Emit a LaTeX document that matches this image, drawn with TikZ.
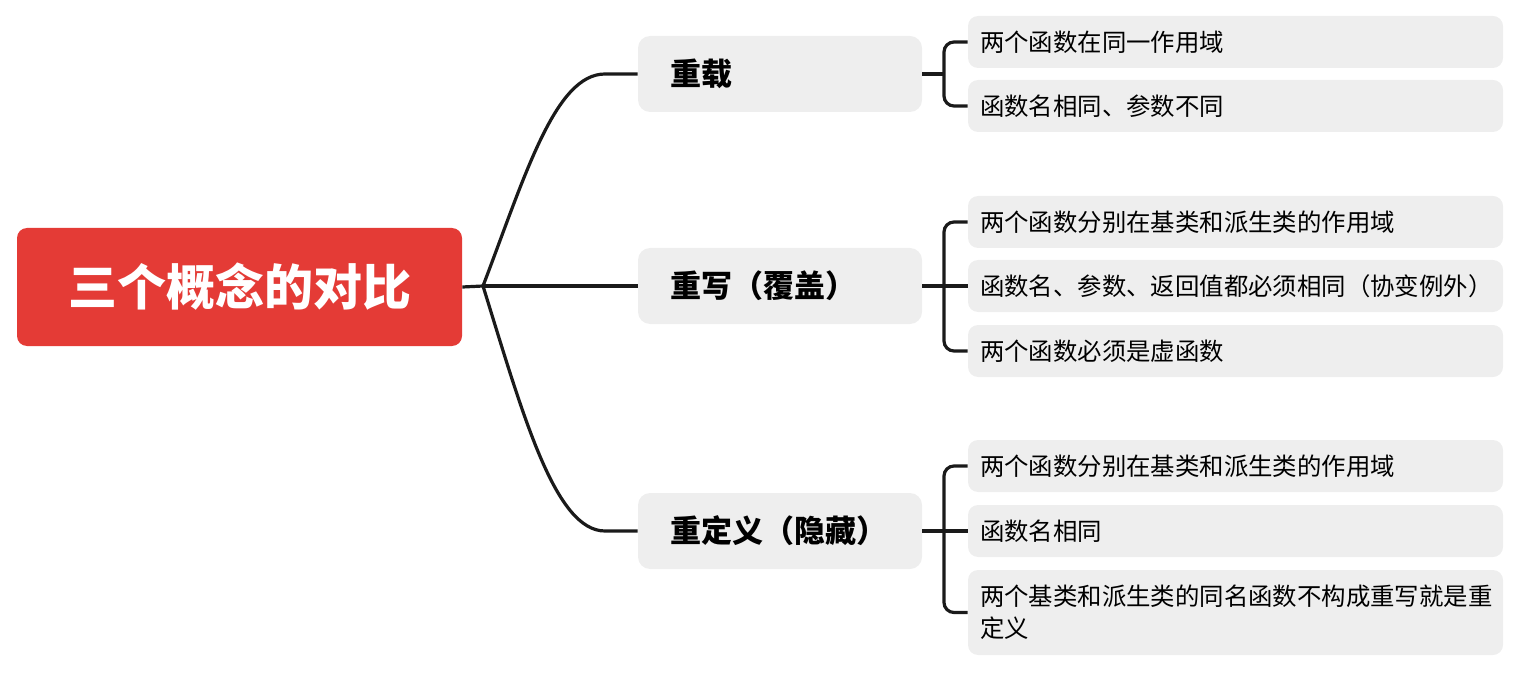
\documentclass[tikz,border=0pt]{standalone}
\usepackage{fontspec}
\setmainfont{Noto Sans CJK SC}
\usetikzlibrary{calc}
\definecolor{rootred}{HTML}{E43B36}
\definecolor{boxgray}{HTML}{EEEEEE}
\definecolor{linec}{HTML}{1A1A1A}
\tikzset{
  rootbox/.style={fill=rootred, rounded corners=5pt, minimum width=222.5pt, minimum height=59pt,
    font=\fontsize{24.5}{28}\selectfont\bfseries, text=white, inner sep=0pt},
  midbox/.style={fill=boxgray, rounded corners=6pt, minimum height=38pt, text width=110pt,
    inner xsep=16pt, inner ysep=0pt, align=left, font=\fontsize{15.5}{18}\selectfont\bfseries, text=black},
  leafbox/.style={fill=boxgray, rounded corners=5pt, minimum height=26pt, text width=255.5pt,
    inner xsep=6pt, inner ysep=0pt, align=left, font=\fontsize{12.2}{16}\selectfont, text=black},
  conn/.style={draw=linec, line width=1.6pt},
}
\begin{document}
\begin{tikzpicture}[x=0.5pt,y=-0.5pt]
\useasboundingbox (0,0) rectangle (1536,684);
% root
\node[rootbox] (root) at (239.5,287) {三个概念的对比};
\coordinate (J) at (483,286);
% mid nodes
\node[midbox] (m1) at (780,74) {重载};
\node[midbox] (m2) at (780,286) {重写（覆盖）};
\node[midbox] (m3) at (780,531) {重定义（隐藏）};
% leaves
\node[leafbox] (l11) at (1235.5,42) {两个函数在同一作用域};
\node[leafbox] (l12) at (1235.5,106) {函数名相同、参数不同};
\node[leafbox] (l21) at (1235.5,222) {两个函数分别在基类和派生类的作用域};
\node[leafbox] (l22) at (1235.5,286) {函数名、参数、返回值都必须相同（协变例外）};
\node[leafbox] (l23) at (1235.5,351) {两个函数必须是虚函数};
\node[leafbox] (l31) at (1235.5,466) {两个函数分别在基类和派生类的作用域};
\node[leafbox] (l32) at (1235.5,531) {函数名相同};
\node[leafbox, minimum height=42.5pt] (l33) at (1235.5,612.5) {两个基类和派生类的同名函数不构成重写就是重\\定义};
% root connectors
\draw[conn] (root.east) -- (J);
\draw[conn, line join=round] (J) .. controls (525,176) and (555,74) .. (605,74) -- (m1.west);
\draw[conn] (J) -- (m2.west);
\draw[conn, line join=round] (J) .. controls (523,415) and (555,531) .. (605,531) -- (m3.west);
% brackets
\coordinate (b1) at (944,74);
\coordinate (b2) at (944,286);
\coordinate (b3) at (944,531);
\draw[conn] (m1.east) -- (b1);
\draw[conn, rounded corners=5pt] (l11.west) -- (b1 |- l11.west) -- (b1 |- l12.west) -- (l12.west);
\draw[conn] (m2.east) -- (l22.west);
\draw[conn, rounded corners=5pt] (l21.west) -- (b2 |- l21.west) -- (b2 |- l23.west) -- (l23.west);
\draw[conn] (m3.east) -- (l32.west);
\draw[conn, rounded corners=5pt] (l31.west) -- (b3 |- l31.west) -- (b3 |- l33.west) -- (l33.west);
\end{tikzpicture}
\end{document}
